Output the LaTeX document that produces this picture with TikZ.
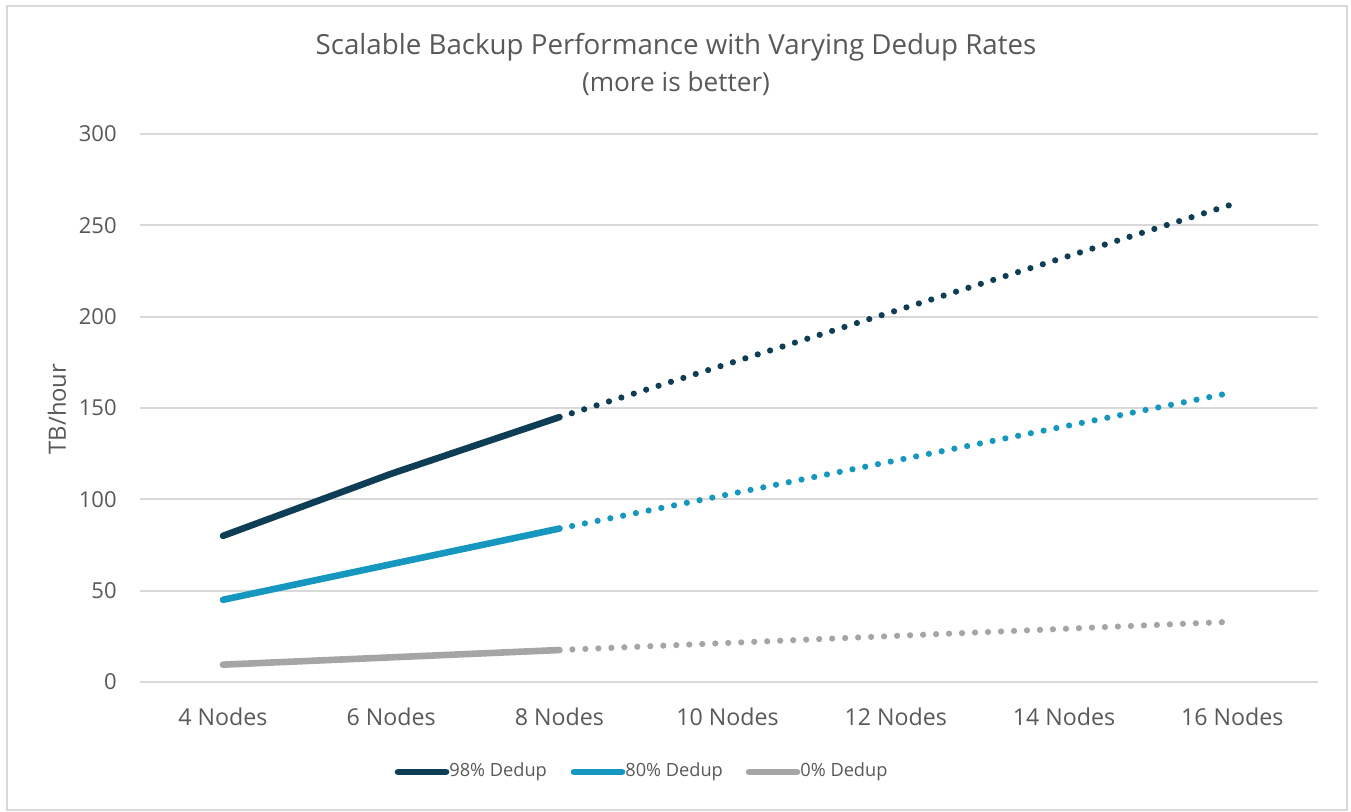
\documentclass[tikz,border=0pt]{standalone}
\usepackage{fontspec}
\setmainfont{Open Sans}
\definecolor{navy}{HTML}{0E3D56}
\definecolor{teal}{HTML}{1597BF}
\definecolor{gry}{HTML}{A5A5A5}
\definecolor{txt}{HTML}{595959}
\definecolor{grid}{HTML}{D9D9D9}
\tikzset{
  gridline/.style={draw=grid, line width=1pt},
  ylab/.style={anchor=east, text=txt, font=\fontsize{11}{13}\selectfont, inner sep=0pt},
  xlab/.style={anchor=center, text=txt, font=\fontsize{11.6}{14}\selectfont, inner sep=0pt},
  leglab/.style={anchor=west, text=txt, font=\fontsize{9.1}{12}\selectfont, inner sep=0pt},
  solidser/.style={line width=3.3pt, line cap=round, line join=round},
  dotser/.style={line width=3.1pt, line cap=round, dash pattern=on 0pt off 6.5pt},
  legline/.style={line width=3.3pt, line cap=round},
}
\begin{document}
\begin{tikzpicture}[x=0.5pt, y=-0.5pt]
\useasboundingbox (0,0) rectangle (1351,812);
\fill[white] (0,0) rectangle (1351,812);
\draw[grid, line width=1.2pt] (7,6) rectangle (1347,810);
% title
\node[text=txt, font=\fontsize{13.85}{17}\selectfont, inner sep=0pt] (title) at (676,47) {Scalable Backup Performance with Varying Dedup Rates};
\node[text=txt, font=\fontsize{13.1}{15}\selectfont, inner sep=0pt] (subtitle) at (676,84) {(more is better)};
% gridlines and y labels
\foreach \v/\n in {0/y0,50/y50,100/y100,150/y150,200/y200,250/y250,300/y300}{
  \draw[gridline] (140,{682-1.82667*\v}) -- (1318,{682-1.82667*\v});
  \node[ylab] (\n) at (117,{682-1.82667*\v}) {\v};
}
\node[text=txt, font=\fontsize{11.9}{13}\selectfont, rotate=90, inner sep=0pt] (ytitle) at (57,409) {TB/hour};
% x labels
\foreach \i/\t in {0/4,1/6,2/8,3/10,4/12,5/14,6/16}{
  \node[xlab] (x\t) at ({223+168.2*\i},717) {\t\ Nodes};
}
% data coordinates
\begin{scope}[shift={(223,682)}, x=84.1pt, y=0.913333pt]
  \coordinate (a4) at (0,80);   \coordinate (a6) at (1,114);  \coordinate (a8) at (2,145);
  \coordinate (a16) at (6,261.5);
  \coordinate (b4) at (0,45);   \coordinate (b6) at (1,64.5); \coordinate (b8) at (2,84);
  \coordinate (b16) at (6,158.5);
  \coordinate (c4) at (0,9.5);  \coordinate (c6) at (1,13.5); \coordinate (c8) at (2,17.5);
  \coordinate (c16) at (6,33);
\end{scope}
% projected (dotted)
\draw[dotser, navy] (a8) -- (a16);
\draw[dotser, teal] (b8) -- (b16);
\draw[dotser, gry] (c8) -- (c16);
% measured (solid)
\draw[solidser, gry] (c4) -- (c6) -- (c8);
\draw[solidser, teal] (b4) -- (b6) -- (b8);
\draw[solidser, navy] (a4) -- (a6) -- (a8);
% legend
\coordinate (l1a) at (398,772); \coordinate (l1b) at (446,772);
\coordinate (l2a) at (574,772); \coordinate (l2b) at (622,772);
\coordinate (l3a) at (749,772); \coordinate (l3b) at (797,772);
\draw[legline, navy] (l1a) -- (l1b);
\draw[legline, teal] (l2a) -- (l2b);
\draw[legline, gry] (l3a) -- (l3b);
\node[leglab] (leg1) at (449,772) {98\% Dedup};
\node[leglab] (leg2) at (625,772) {80\% Dedup};
\node[leglab] (leg3) at (800,772) {0\% Dedup};
\end{tikzpicture}
\end{document}
